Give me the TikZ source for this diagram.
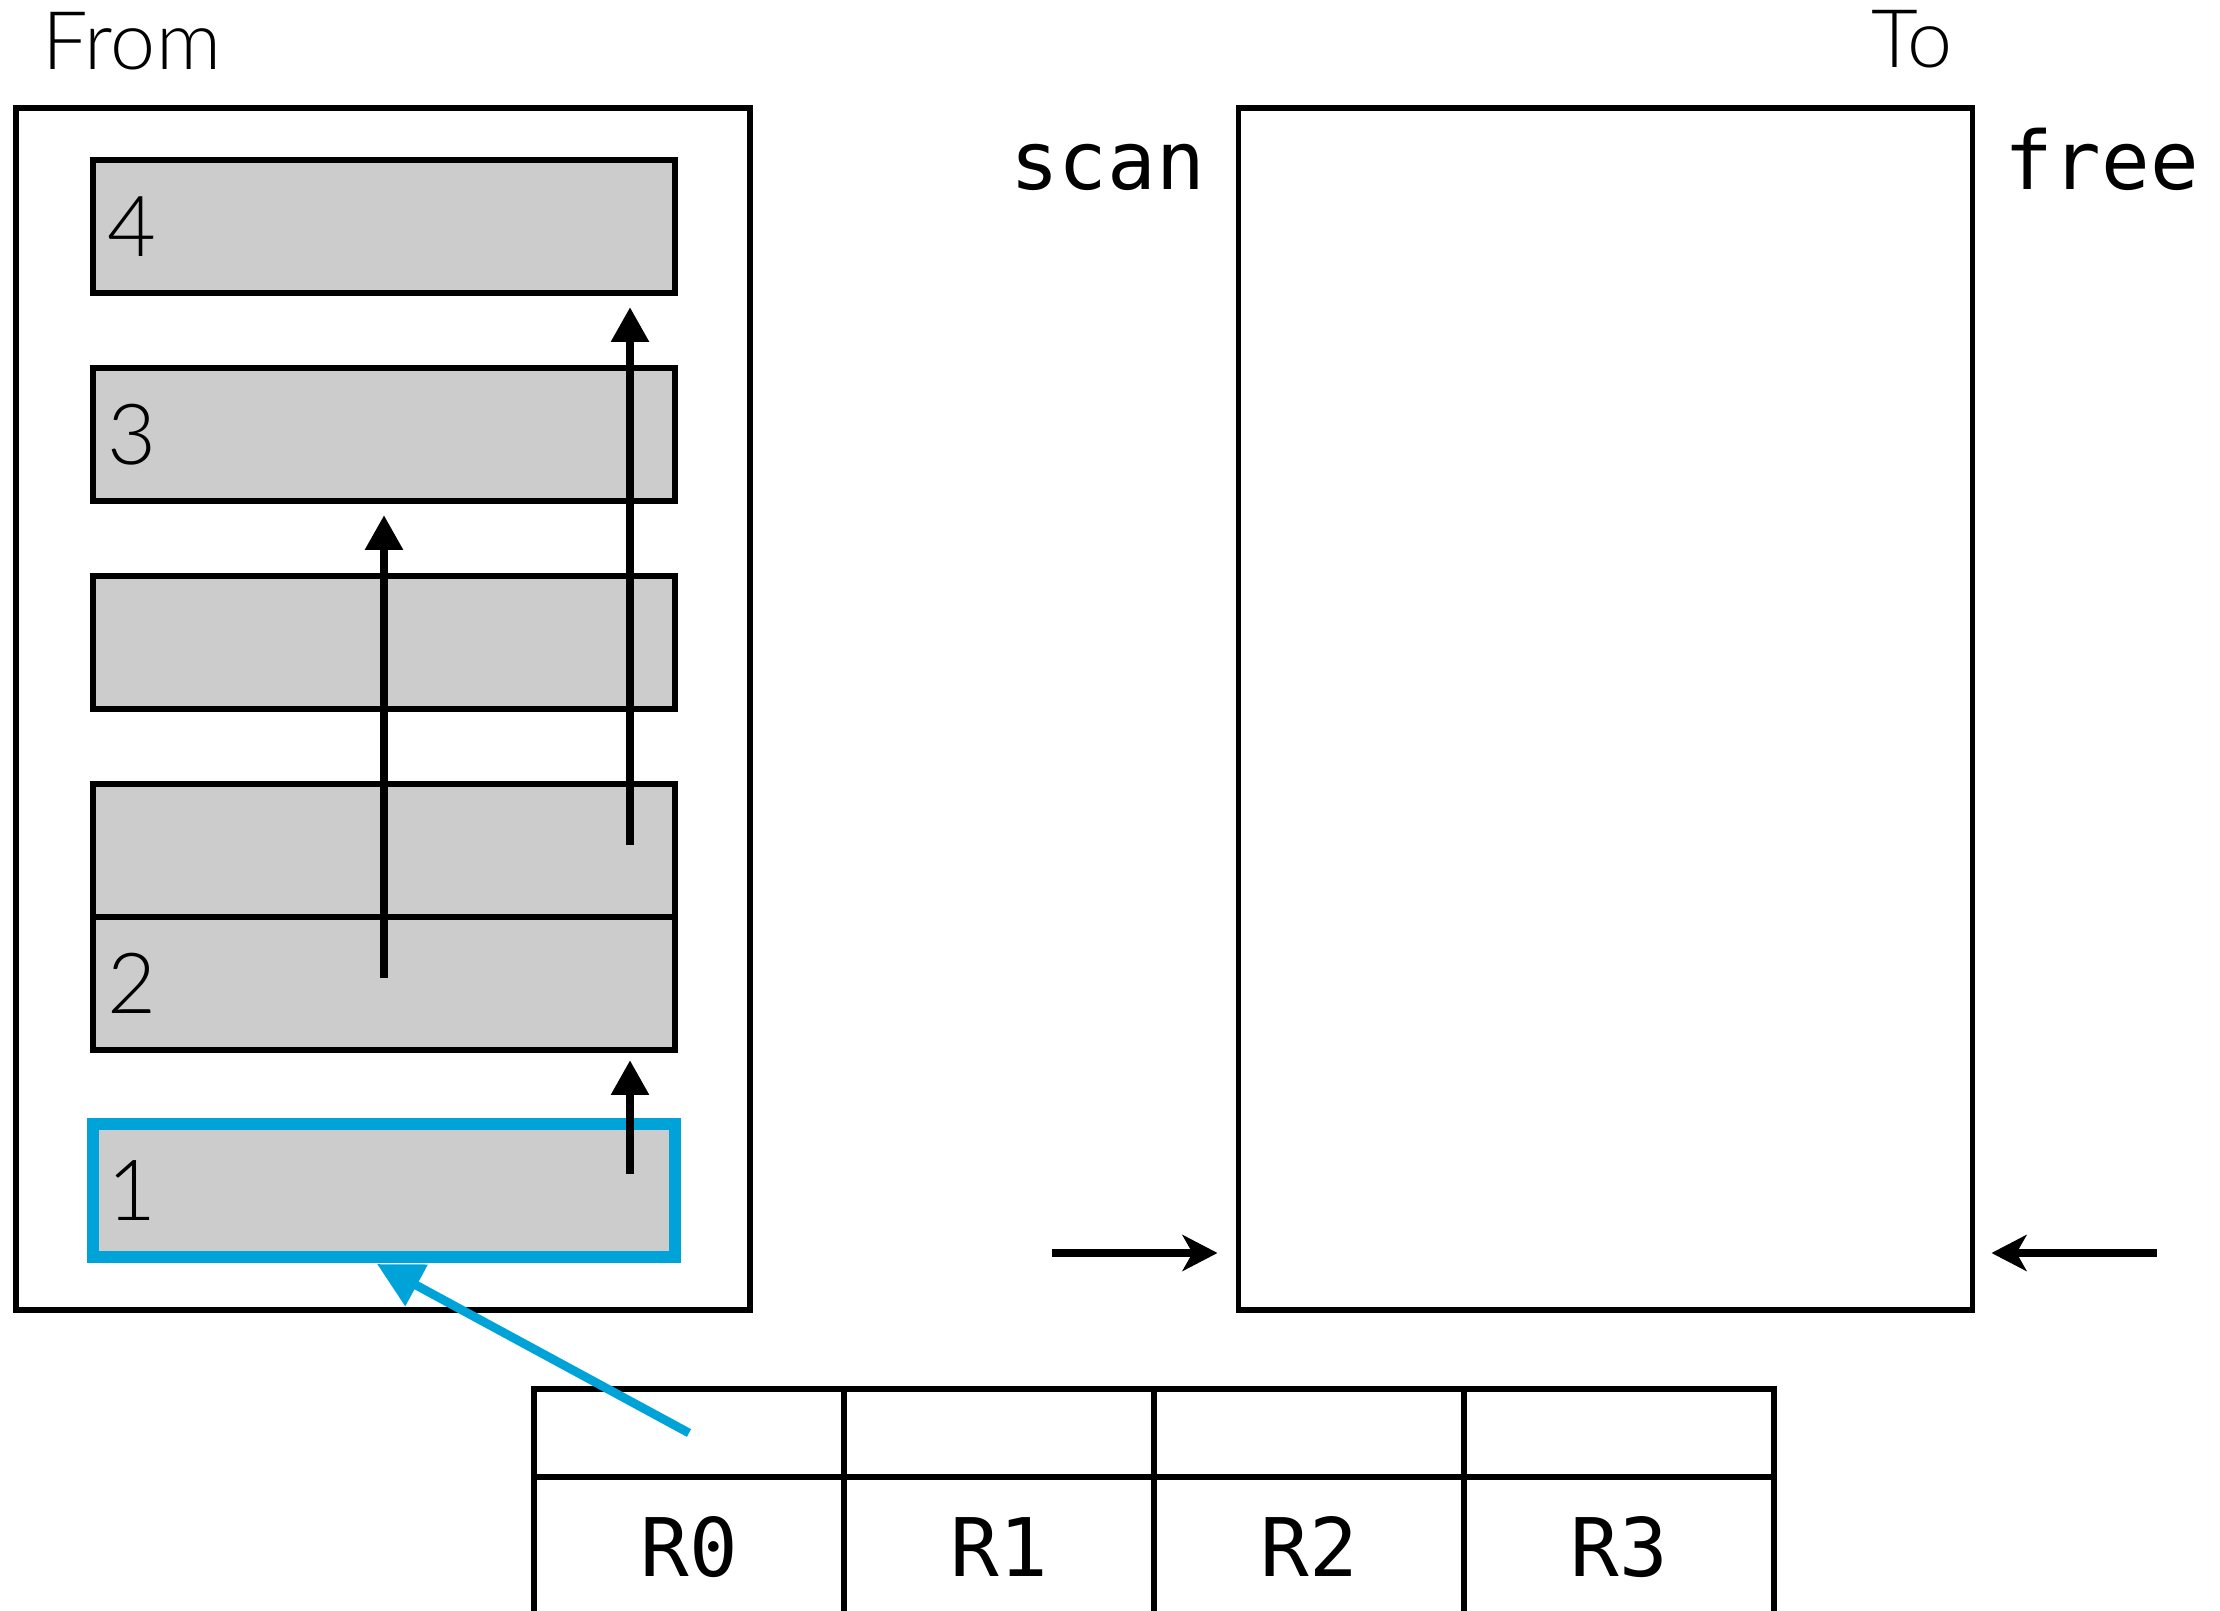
\documentclass[tikz,border=0pt]{standalone}
\usepackage{fontspec}
\newfontfamily\sansf{Lato}[UprightFont={* Light}]
\newfontfamily\monof{DejaVu Sans Mono}
\usetikzlibrary{positioning,arrows.meta,calc}
\definecolor{barfill}{HTML}{CCCCCC}
\definecolor{hlblue}{HTML}{00A3D8}

\begin{document}
\begin{tikzpicture}[
  line width=1.45pt,
  node distance=0.75cm,
  space/.style={draw, outer sep=0pt, minimum width=7.34cm, minimum height=12.02cm},
  bar/.style={draw, fill=barfill, outer sep=0pt, minimum width=5.82cm, minimum height=1.33cm,
              text width=5.52cm, inner xsep=0.15cm, align=left, font=\sansf\fontsize{24}{24}\selectfont},
  sel/.style={bar, draw=hlblue, line width=3.5pt, minimum height=1.33cm},
  cell/.style={draw, outer sep=0pt, minimum width=3.1cm, minimum height=0.88cm},
  reg/.style={cell, minimum height=1.4cm, font=\monof\fontsize{23}{23}\selectfont},
  ttl/.style={font=\sansf\fontsize{23}{23}\selectfont, inner sep=0pt},
  ptr/.style={font=\monof\fontsize{23}{23}\selectfont, inner sep=0pt},
  up/.style={-{Triangle[length=0.35cm,width=0.36cm]}, line width=2.5pt},
  side/.style={-{Stealth[length=0.35cm,width=0.36cm,inset=0.1cm]}, line width=2.5pt},
  fwd/.style={-{Triangle[length=0.45cm,width=0.45cm]}, line width=2.5pt, color=hlblue}]
  \useasboundingbox (0,0) rectangle (22.2,16.11);
  % the two semispaces
  \node[space] (from) at (3.83,9.02) {};
  \node[space] (to) at (16.055,9.02) {};
  % objects in from-space
  \node[bar] (b4) at (3.84,13.845) {4};
  \node[bar, below=of b4] (b3) {3};
  \node[bar, below=of b3] (bx) {};
  \node[bar, below=of bx] (by) {};
  \node[bar, below=0cm of by] (b2) {2};
  \node[sel, below=0.74cm of b2] (b1) {1};
  % pointers between objects
  \draw[up] ($(b2.north)+(0,-0.61)$) -- ($(b3.south)+(0,-0.14)$);
  \draw[up] ($(by.north east)+(-0.45,-0.61)$) -- ($(b4.south east)+(-0.45,-0.14)$);
  \draw[up] ($(b1.north east)+(-0.45,-0.50)$) -- ($(b2.south east)+(-0.45,-0.10)$);
  % scan and free pointers
  \draw[side] ($(to.south west)+(-1.87,0.57)$) -- ($(to.south west)+(-0.21,0.57)$);
  \draw[side] ($(to.south east)+(1.84,0.57)$) -- ($(to.south east)+(0.19,0.57)$);
  % titles
  \node[ttl, anchor=base west] (fromlbl) at ($(from.north west)+(0.24,0.38)$) {From};
  \node[ttl, anchor=base east] (tolbl) at ($(to.north east)+(-0.17,0.40)$) {To};
  \node[ptr, anchor=base east] (scan) at ($(to.north west)+(-0.31,-0.82)$) {scan};
  \node[ptr, anchor=base west] (free) at ($(to.north east)+(0.29,-0.82)$) {free};
  % registers
  \node[cell] (c0) at (6.89,1.78) {};
  \node[reg, below=0cm of c0] (r0) {R0};
  \foreach \i [count=\j from 0] in {1,2,3} {
    \node[cell, right=0cm of c\j] (c\i) {};
    \node[reg, below=0cm of c\i] (r\i) {R\i};
  }
  % root pointer
  \draw[fwd] (c0.center) -- ($(b1.south)+(-0.07,-0.07)$);
\end{tikzpicture}
\end{document}
